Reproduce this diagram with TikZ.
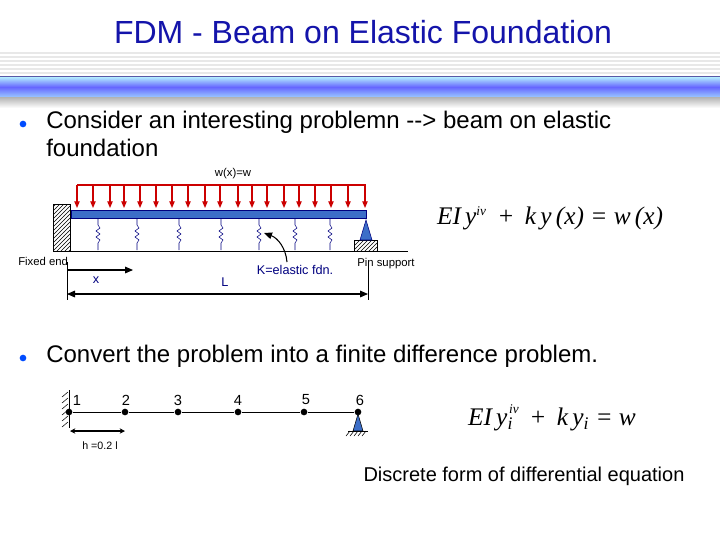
\documentclass[tikz,border=0pt]{standalone}
\usepackage{fontspec}
\setmainfont{Liberation Sans}
\newfontfamily\tms{Liberation Serif}
\usetikzlibrary{patterns,arrows.meta}
\definecolor{ttl}{RGB}{20,20,170}
\definecolor{beamblue}{RGB}{60,110,200}
\tikzset{
 lbl/.style={inner sep=0pt,font=\fontsize{8.5}{9}\selectfont},
 big/.style={inner sep=0pt,font=\fontsize{18}{21}\selectfont,align=left,anchor=north west},
 load/.style={red!80!black,-{Triangle[length=5pt,width=4pt]},line width=0.9pt},
 spr/.style={navy,thin},
 dot/.style={circle,fill=black,inner sep=0pt,minimum size=5pt},
 hatch/.style={pattern=north east lines,draw=black},
 bul/.style={circle,fill=blue!70!cyan,inner sep=0pt,minimum size=5pt},
}
\colorlet{navy}{blue!50!black}
\begin{document}
\begin{tikzpicture}[x=0.75pt,y=-0.75pt]
\useasboundingbox (0,0) rectangle (720,540);
\fill[white] (0,0) rectangle (720,540);
% header band
\foreach \y in {52,56,...,74} \fill[gray!18] (0,\y) rectangle (720,\y+2);
\fill[top color=blue!25!cyan!30,bottom color=blue!55!cyan!40,middle color=blue!60] (0,77) rectangle (720,97);
\draw[gray!70!blue] (0,76.5) -- (720,76.5);
\fill[top color=gray!60,bottom color=white] (0,97) rectangle (720,108);
\node[ttl,font=\fontsize{24}{27}\selectfont] (title) at (363,32) {FDM - Beam on Elastic Foundation};
\node[bul] (b1) at (23,124) {};
\node[big] (t1) at (46,111) {Consider an interesting problemn -{}-{}> beam on elastic\\foundation};
% beam figure
\node[lbl] (wl) at (233,174) {w(x)=w};
\coordinate (lt) at (77,185); \coordinate (rt) at (366,185);
\draw[red!80!black,line width=0.9pt] (lt) -- (rt);
\foreach \x in {77,93,110,124,140,156,172,188,205,220,238,252,267,284,299,315,331,348,365}
  \draw[load] (\x,185) -- (\x,208);
\node[fill=beamblue,draw=navy,minimum width=295*0.75pt,minimum height=6pt,inner sep=0pt] (beam) at (218.5,214) {};
\node[hatch,minimum width=13pt,minimum height=35pt,inner sep=0pt] (wall) at (62,227.5) {};
\draw (71,251) -- (408,251);
\foreach \x in {98,137,179,221,259,295,330}{
 \draw[spr] (\x,218) -- (\x,225) -- (\x+2,228) -- (\x-2,231) -- (\x+2,234) -- (\x-2,237) -- (\x+2,240) -- (\x,243) -- (\x,250);}
\node[hatch,minimum width=17pt,minimum height=8pt,inner sep=0pt] (pinb) at (365.5,245.5) {};
\fill[beamblue,draw=navy] (366,220) -- (360,240) -- (372,240) -- cycle;
\node[lbl,anchor=west] (fe) at (18,261) {Fixed end};
\node[lbl,anchor=west] (ps) at (357,264) {Pin support};
\node[lbl,navy,font=\fontsize{9.5}{10}\selectfont] (kf) at (295,270) {K=elastic fdn.};
\draw[-{Triangle[length=6pt,width=5pt]},thick] (287,262) to[out=95,in=-20] (264,233);
\coordinate (la) at (67,294); \coordinate (ra) at (368,294);
\draw (67,262) -- (67,300); \draw (368,262) -- (368,300);
\draw[-{Triangle[length=6pt,width=5pt]},thick] (67,270) -- (133,270);
\draw[{Triangle[length=6pt,width=5pt]}-{Triangle[length=6pt,width=5pt]},thick] (la) -- (ra);
\node[lbl,navy,font=\fontsize{9.5}{10}\selectfont] (xl) at (96,280) {x};
\node[lbl,navy,font=\fontsize{9.5}{10}\selectfont] (Ll) at (225,282) {L};
\node[inner sep=0pt,font=\tms\itshape\fontsize{19}{20}\selectfont] (eq1) at (550,218) {EI\,y\textsuperscript{\fontsize{10}{10}\selectfont iv}\, + \,k\,y\,(x) = w\,(x)};
% second part
\node[bul] (b2) at (23,358) {};
\node[big] (t2) at (46,345) {Convert the problem into a finite difference problem.};
\foreach \yy in {392,398,...,426} \draw (62,\yy+5) -- (68,\yy);
\draw (69,390) -- (69,428);
\node[dot] (n1) at (69,412) {}; \node[dot] (n2) at (125,412) {}; \node[dot] (n3) at (178,412) {};
\node[dot] (n4) at (238,412) {}; \node[dot] (n5) at (304,412) {}; \node[dot] (n6) at (358,412) {};
\draw (n1) -- (n2) -- (n3) -- (n4) -- (n5) -- (n6);
\fill[beamblue,draw=black] (358,414) -- (353,431) -- (363,431) -- cycle;
\draw (348,431) -- (368,431);
\foreach \xx in {350,354,...,366} \draw (\xx,431) -- (\xx-4,436);
\foreach \i/\xx in {1/77,2/126,3/178,4/238,5/306,6/360}
  \node[lbl,font=\fontsize{11}{12}\selectfont] (l\i) at (\xx,400) {\i};
\coordinate (h0) at (70,431); \coordinate (h1) at (125,431);
\draw[{Stealth[length=4pt,width=4pt]}-{Stealth[length=4pt,width=4pt]},line width=1.2pt] (h0) -- (h1);
\node[lbl,font=\fontsize{8}{9}\selectfont] (hl) at (100,446) {h =0.2 l};
\node[inner sep=0pt,font=\tms\itshape\fontsize{19}{20}\selectfont] (eq2) at (552,418) {EI\,y\textsubscript{i}\hspace{-3pt}\raisebox{9pt}{\fontsize{10}{10}\selectfont iv}\, + \,k\,y\textsubscript{i} = w};
\node[inner sep=0pt,font=\fontsize{15}{17}\selectfont] (df) at (524,476) {Discrete form of differential equation};
\end{tikzpicture}
\end{document}
